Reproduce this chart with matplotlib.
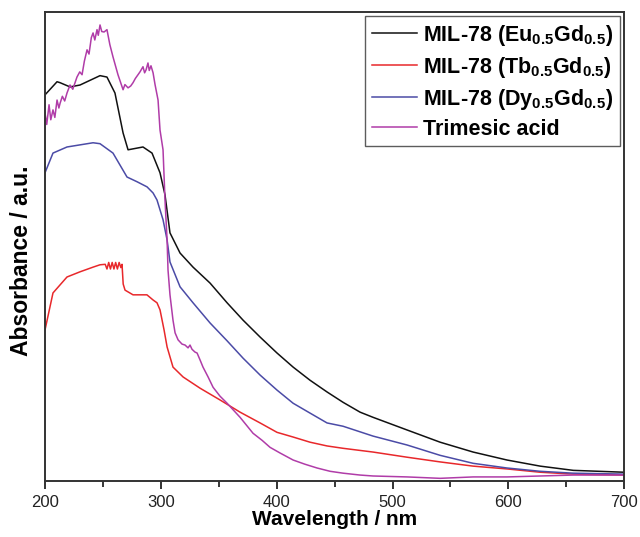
import numpy as np
import matplotlib.pyplot as plt
from matplotlib.ticker import MultipleLocator, NullLocator

plt.rcParams['font.family'] = ['Liberation Sans', 'DejaVu Sans']
plt.rcParams['mathtext.fontset'] = 'custom'
plt.rcParams['mathtext.bf'] = 'Liberation Sans:bold'
plt.rcParams['mathtext.rm'] = 'Liberation Sans'

# Data (wavelength in nm, absorbance in arbitrary units)
wl_eu = [200, 210.4, 213, 221.6, 230.2, 247.5, 253.5, 260.4, 267.4, 271.7, 284.6, 292.4,
         299.3, 303.6, 307.9, 316.6, 327.8, 342.5, 357.2, 371.0, 385.7, 400.3, 414.2,
         428.8, 443.5, 457.3, 472.0, 483.2, 512.6, 541.1, 569.6, 598.9, 627.5, 656.0, 700]
abs_eu = [0.823, 0.851, 0.849, 0.840, 0.844, 0.864, 0.861, 0.827, 0.742, 0.706, 0.712, 0.699,
          0.657, 0.610, 0.529, 0.486, 0.456, 0.422, 0.380, 0.343, 0.307, 0.273, 0.243,
          0.215, 0.190, 0.168, 0.147, 0.136, 0.109, 0.083, 0.062, 0.045, 0.032, 0.023, 0.019]

wl_tb = [200, 206.9, 219, 230.2, 241.5, 247.5, 252, 253.5, 255, 256.5, 258, 259.5, 261,
         262.5, 264, 265.5, 266.5, 267.5, 269.1, 276, 284.6, 288, 293.3, 296.7, 299.3,
         302.8, 305.4, 310.5, 319.2, 333.9, 351.1, 368.4, 385.7, 400.3, 414.2, 428.8,
         443.5, 457.3, 483.2, 512.6, 541.1, 569.6, 598.9, 627.5, 656.0, 700]
abs_tb = [0.322, 0.401, 0.435, 0.446, 0.456, 0.461, 0.462, 0.452, 0.466, 0.452, 0.466, 0.452,
          0.466, 0.452, 0.466, 0.455, 0.462, 0.420, 0.407, 0.397, 0.397, 0.397, 0.386, 0.380,
          0.365, 0.322, 0.286, 0.243, 0.222, 0.198, 0.173, 0.147, 0.124, 0.104, 0.094,
          0.083, 0.075, 0.070, 0.062, 0.051, 0.041, 0.032, 0.026, 0.019, 0.015, 0.013]

wl_dy = [200, 206.9, 219, 241.5, 247.5, 258.7, 270.8, 279.4, 288.1, 293.3, 296.7, 301.9,
         305.4, 307.9, 316.6, 327.8, 342.5, 357.2, 371.0, 385.7, 400.3, 414.2, 428.8,
         443.5, 457.3, 483.2, 512.6, 541.1, 569.6, 598.9, 627.5, 656.0, 700]
abs_dy = [0.657, 0.699, 0.712, 0.721, 0.719, 0.699, 0.648, 0.638, 0.627, 0.614, 0.599, 0.557,
          0.514, 0.467, 0.414, 0.380, 0.337, 0.299, 0.262, 0.226, 0.194, 0.166, 0.145,
          0.124, 0.117, 0.096, 0.077, 0.055, 0.038, 0.028, 0.021, 0.017, 0.015]

wl_tma = [200, 201.5, 203.5, 205, 206.9, 208.5, 210.4, 212, 213, 215, 217, 219, 221.6,
          224, 227.6, 230, 232, 234, 236.3, 238, 240, 241.5, 243, 244.9, 246, 247.5, 249,
          251, 253.5, 256, 258.7, 263, 267.4, 269, 271.7, 274, 276, 278, 280.3, 282, 284.6,
          286, 287.2, 288.9, 290, 291.5, 293.3, 295, 297.6, 299.3, 301.9, 303.6, 305.4,
          306.2, 307.9, 310.5, 312.3, 314.9, 318.3, 320.9, 323.5, 325.2, 326.9, 329.5,
          331.3, 333.9, 336.4, 340.8, 345.1, 351.1, 357.2, 368.4, 379.6, 387.4, 394.3,
          402.9, 414.2, 424.5, 434.9, 446.1, 457.3, 472.0, 483.2, 512.6, 541.1, 569.6,
          598.9, 627.5, 656.0, 700]
abs_tma = [0.785, 0.760, 0.802, 0.770, 0.791, 0.775, 0.812, 0.795, 0.805, 0.820, 0.810,
           0.827, 0.844, 0.835, 0.861, 0.872, 0.866, 0.895, 0.919, 0.910, 0.945, 0.955,
           0.940, 0.962, 0.950, 0.972, 0.958, 0.957, 0.962, 0.930, 0.904, 0.866, 0.834,
           0.845, 0.838, 0.842, 0.849, 0.858, 0.866, 0.872, 0.883, 0.870, 0.876, 0.891,
           0.875, 0.885, 0.870, 0.845, 0.812, 0.748, 0.706, 0.599, 0.514, 0.450, 0.397,
           0.343, 0.316, 0.301, 0.292, 0.290, 0.284, 0.290, 0.281, 0.275, 0.273, 0.258,
           0.243, 0.222, 0.200, 0.181, 0.166, 0.136, 0.102, 0.087, 0.072, 0.060, 0.045,
           0.036, 0.028, 0.021, 0.017, 0.013, 0.011, 0.009, 0.006, 0.009, 0.009, 0.011,
           0.013, 0.013]

labels = [r'MIL-78 (Eu$_{\mathbf{0.5}}$Gd$_{\mathbf{0.5}}$)',
          r'MIL-78 (Tb$_{\mathbf{0.5}}$Gd$_{\mathbf{0.5}}$)',
          r'MIL-78 (Dy$_{\mathbf{0.5}}$Gd$_{\mathbf{0.5}}$)',
          'Trimesic acid']
colors = ['#111111', '#e8282b', '#4b4ba6', '#b03ca8']

fig = plt.figure(figsize=(6.4, 5.37), dpi=100)
ax = fig.add_axes([0.0703, 0.104, 0.905, 0.874])

series = [(wl_eu, abs_eu), (wl_tb, abs_tb), (wl_dy, abs_dy), (wl_tma, abs_tma)]
for (x, y), lab, c in zip(series, labels, colors):
    ax.plot(x, y, color=c, lw=1.1, label=lab)

ax.set_xlim(200, 700)
ax.set_ylim(0, 1)
ax.xaxis.set_major_locator(MultipleLocator(100))
ax.xaxis.set_minor_locator(MultipleLocator(50))
ax.yaxis.set_major_locator(NullLocator())
ax.tick_params(axis='x', which='major', direction='out', length=6, width=1.3,
               labelsize=12, pad=4, colors='#222222')
ax.tick_params(axis='x', which='minor', direction='out', length=4, width=1.1)
for sp in ax.spines.values():
    sp.set_linewidth(1.4)
    sp.set_color('#333333')

ax.set_xlabel('Wavelength / nm', fontsize=15, fontweight='bold', labelpad=0)
ax.set_ylabel('Absorbance / a.u.', fontsize=16.5, fontweight='bold')
ax.yaxis.set_label_coords(-0.021, 0.47)

leg = ax.legend(loc='upper right', fontsize=15.5, frameon=True, fancybox=False,
                handlelength=2.1, handletextpad=0.3, borderaxespad=0.2,
                labelspacing=0.33, borderpad=0.3)
leg.get_frame().set_edgecolor('#333333')
leg.get_frame().set_linewidth(1.0)
for t in leg.get_texts():
    t.set_fontweight('bold')

fig.savefig('out.png', dpi=100)
